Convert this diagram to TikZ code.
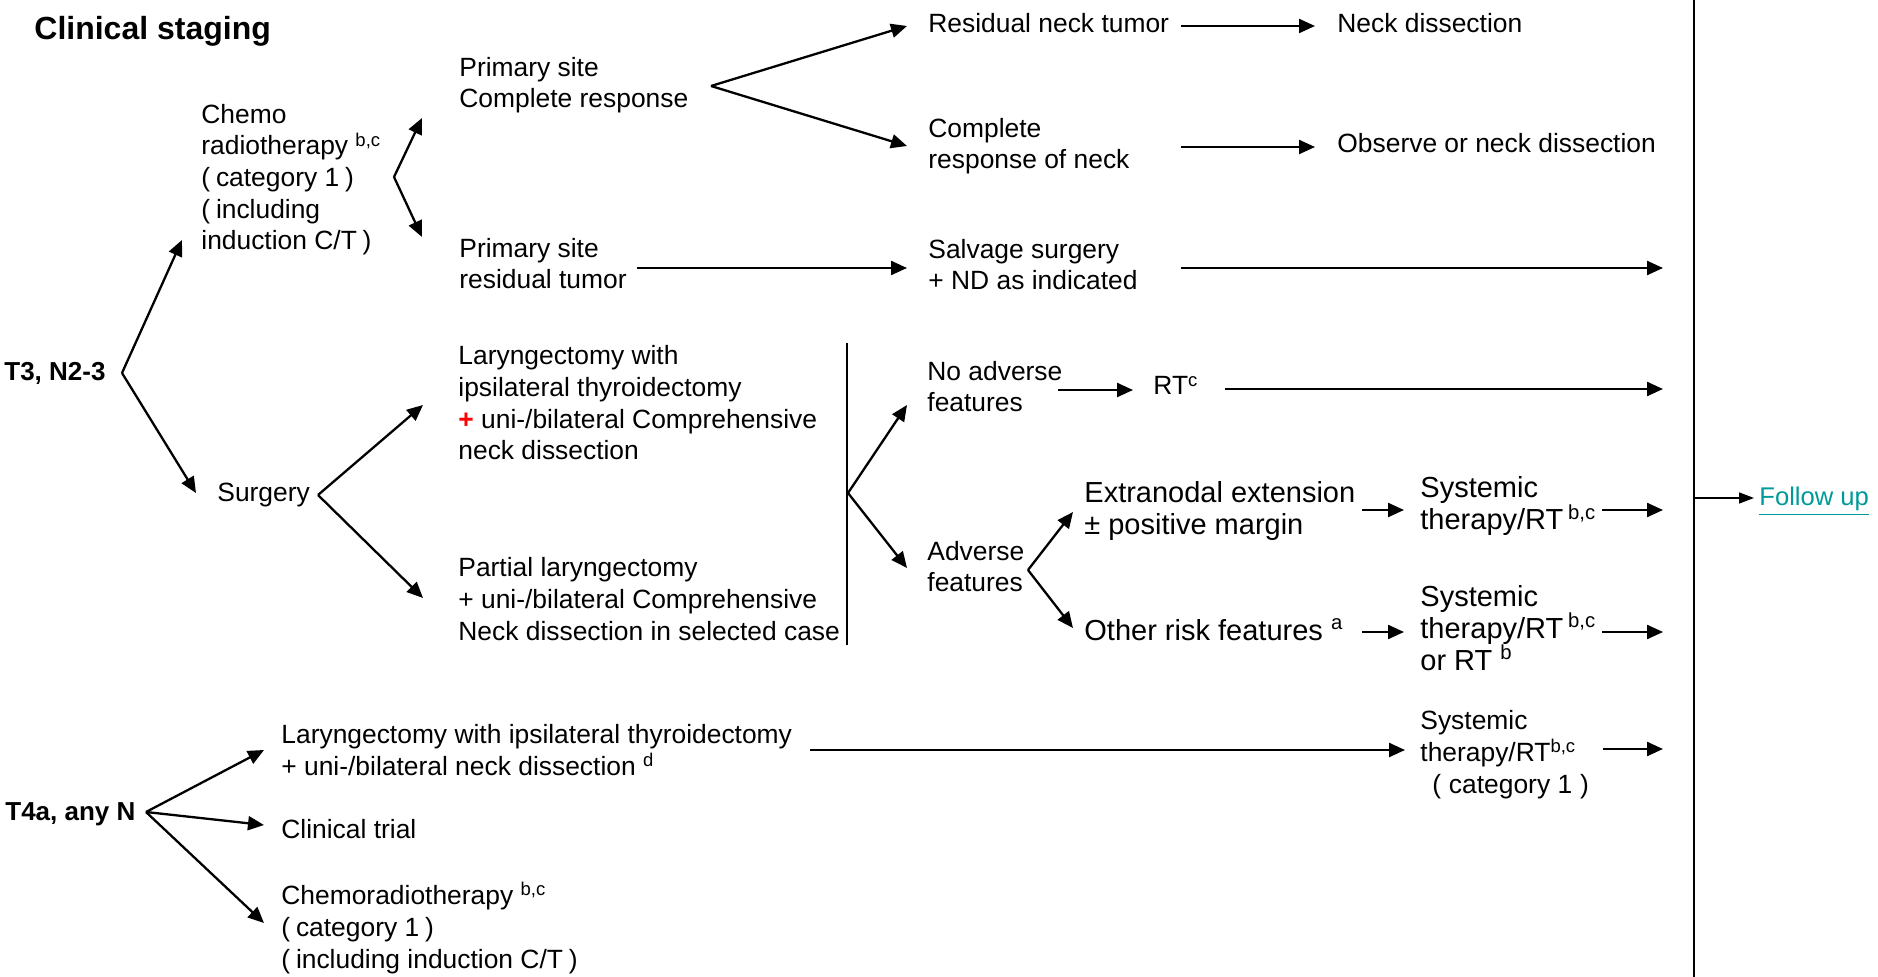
\documentclass[tikz,border=0pt]{standalone}
\usepackage{fontspec}
\setmainfont{Liberation Sans}
\usetikzlibrary{arrows.meta}
\definecolor{linkteal}{RGB}{0,153,153}
\newcommand{\sx}[1]{\textsuperscript{#1}}
\newcommand{\lpar}{(\hspace{0.22em}}
\newcommand{\rpar}{\hspace{0.22em})}
\begin{document}
\begin{tikzpicture}[x=0.5pt,y=-0.5pt,
  % multi-line blocks are placed by the baseline of their last line
  txt/.style={anchor=base west,inner sep=0pt,align=left,font=\fontsize{13.2}{15.85}\selectfont},
  big/.style={txt,font=\fontsize{14.5}{16}\selectfont},
  stage/.style={anchor=base west,inner sep=0pt,font=\bfseries\fontsize{13}{15.6}\selectfont},
  arr/.style={line width=1.15pt,-{Triangle[length=8pt,width=7pt]}},
  thinarr/.style={line width=0.75pt,-{Triangle[length=7.5pt,width=5.5pt]}},
  bar/.style={line width=1.3pt},
]
\useasboundingbox (0,0) rectangle (1878,977);

% ---- text blocks ----
\node[anchor=base west,inner sep=0pt,font=\bfseries\fontsize{16}{19}\selectfont] (title) at (34,40) {Clinical staging};
\node[stage] (t3) at (4,381) {T3, N2-3};
\node[txt] (chemo) at (201,250) {Chemo\\radiotherapy \sx{b,c}\\\lpar category 1\rpar\\\lpar including\\induction C/T\rpar};
\node[txt] (ps1) at (459,108) {Primary site\\Complete response};
\node[txt] (ps2) at (459,289) {Primary site\\residual tumor};
\node[txt] (rnt) at (928,33) {Residual neck tumor};
\node[txt] (nd) at (1337,33) {Neck dissection};
\node[txt] (crn) at (928,169) {Complete\\response of neck};
\node[txt] (ond) at (1337,153) {Observe or neck dissection};
\node[txt] (ss) at (928,290) {Salvage surgery\\+ ND as indicated};
\node[txt] (surg) at (217,502) {Surgery};
\node[txt] (lar) at (458,460) {Laryngectomy with\\ipsilateral thyroidectomy\\\textcolor{red}{\textbf{+}} uni-/bilateral Comprehensive\\neck dissection};
\node[txt] (par) at (458,640) {Partial laryngectomy\\+ uni-/bilateral Comprehensive\\Neck dissection in selected case};
\node[txt] (noadv) at (927,412) {No adverse\\features};
\node[txt] (rtc) at (1153,395) {RT\sx{c}};
\node[txt] (adv) at (927,592) {Adverse\\features};
\node[big] (ene) at (1084,535) {Extranodal extension\\± positive margin};
\node[big] (sys1) at (1420,530) {Systemic\\therapy/RT\,\sx{b,c}};
\node[big] (orf) at (1084,640) {Other risk features \sx{a}};
\node[big] (sys2) at (1420,670) {Systemic\\therapy/RT\,\sx{b,c}\\or RT \sx{b}};
\node[anchor=base west,inner sep=0pt,text=linkteal,font=\fontsize{12.8}{15}\selectfont] (fu) at (1759,506) {\underline{Follow up}};
\node[stage] (t4a) at (5,820) {T4a, any N};
\node[txt] (lar2) at (281,775) {Laryngectomy with ipsilateral thyroidectomy\\+ uni-/bilateral neck dissection \sx{d}};
\node[txt] (ct) at (281,838) {Clinical trial};
\node[txt] (crt2) at (281,968) {Chemoradiotherapy \sx{b,c}\\\lpar category 1\rpar\\\lpar including induction C/T\rpar};
\node[txt] (sys3) at (1420,793) {Systemic\\therapy/RT\sx{b,c}\\\hspace{0.45em}(\hspace{0.3em}category 1\hspace{0.3em})};

% ---- branch points and connector ends ----
\coordinate (v-t3) at (122,373);
\coordinate (chemo-in) at (182,240);
\coordinate (surg-in) at (196,493);
\coordinate (v-chemo) at (394,177);
\coordinate (ps1-in) at (422,118);
\coordinate (ps2-in) at (422,237);
\coordinate (v-ps1) at (711,86);
\coordinate (rnt-in) at (907,26);
\coordinate (crn-in) at (907,146);
\coordinate (rnt-out) at (1181,26);
\coordinate (nd-in) at (1315,26);
\coordinate (crn-out) at (1181,147);
\coordinate (ond-in) at (1315,147);
\coordinate (ps2-out) at (637,268);
\coordinate (ss-in) at (907,268);
\coordinate (ss-out) at (1181,268);
\coordinate (v-surg) at (318,495);
\coordinate (lar-in) at (423,405);
\coordinate (par-in) at (423,598);
\coordinate (bar-top) at (847,343);
\coordinate (bar-bot) at (847,645);
\coordinate (v-bar) at (848,493);
\coordinate (noadv-in) at (907,405);
\coordinate (adv-in) at (907,568);
\coordinate (noadv-out) at (1058,390);
\coordinate (rtc-in) at (1133,390);
\coordinate (rtc-out) at (1225,389);
\coordinate (v-adv) at (1028,570);
\coordinate (ene-in) at (1073,512);
\coordinate (orf-in) at (1073,628);
\coordinate (ene-out) at (1362,510);
\coordinate (sys1-in) at (1404,510);
\coordinate (sys1-out) at (1602,510);
\coordinate (orf-out) at (1362,632);
\coordinate (sys2-in) at (1404,632);
\coordinate (sys2-out) at (1602,632);
\coordinate (v-t4a) at (146,812);
\coordinate (lar2-in) at (264,750);
\coordinate (ct-in) at (264,825);
\coordinate (crt2-in) at (264,923);
\coordinate (lar2-out) at (810,750);
\coordinate (sys3-in) at (1405,750);
\coordinate (sys3-out) at (1603,749);
\coordinate (bus-top) at (1694,0);
\coordinate (bus-bot) at (1694,977);
\coordinate (bus-ss) at (1663,268);
\coordinate (bus-rt) at (1663,389);
\coordinate (bus-s1) at (1663,510);
\coordinate (bus-s2) at (1663,632);
\coordinate (bus-s3) at (1663,749);
\coordinate (bus-fu) at (1694,498);
\coordinate (fu-in) at (1754,498);

% ---- connectors ----
\draw[arr] (v-t3) -- (chemo-in);
\draw[arr] (v-t3) -- (surg-in);
\draw[arr] (v-chemo) -- (ps1-in);
\draw[arr] (v-chemo) -- (ps2-in);
\draw[arr] (v-ps1) -- (rnt-in);
\draw[arr] (v-ps1) -- (crn-in);
\draw[arr] (rnt-out) -- (nd-in);
\draw[arr] (crn-out) -- (ond-in);
\draw[arr] (ps2-out) -- (ss-in);
\draw[arr] (ss-out) -- (bus-ss);
\draw[arr] (v-surg) -- (lar-in);
\draw[arr] (v-surg) -- (par-in);
\draw[line width=1pt] (bar-top) -- (bar-bot);
\draw[arr] (v-bar) -- (noadv-in);
\draw[arr] (v-bar) -- (adv-in);
\draw[arr] (noadv-out) -- (rtc-in);
\draw[arr] (rtc-out) -- (bus-rt);
\draw[arr] (v-adv) -- (ene-in);
\draw[arr] (v-adv) -- (orf-in);
\draw[arr] (ene-out) -- (sys1-in);
\draw[arr] (sys1-out) -- (bus-s1);
\draw[arr] (orf-out) -- (sys2-in);
\draw[arr] (sys2-out) -- (bus-s2);
\draw[arr] (v-t4a) -- (lar2-in);
\draw[arr] (v-t4a) -- (ct-in);
\draw[arr] (v-t4a) -- (crt2-in);
\draw[arr] (lar2-out) -- (sys3-in);
\draw[arr] (sys3-out) -- (bus-s3);
\draw[bar] (bus-top) -- (bus-bot);
\draw[thinarr] (bus-fu) -- (fu-in);
\end{tikzpicture}
\end{document}
